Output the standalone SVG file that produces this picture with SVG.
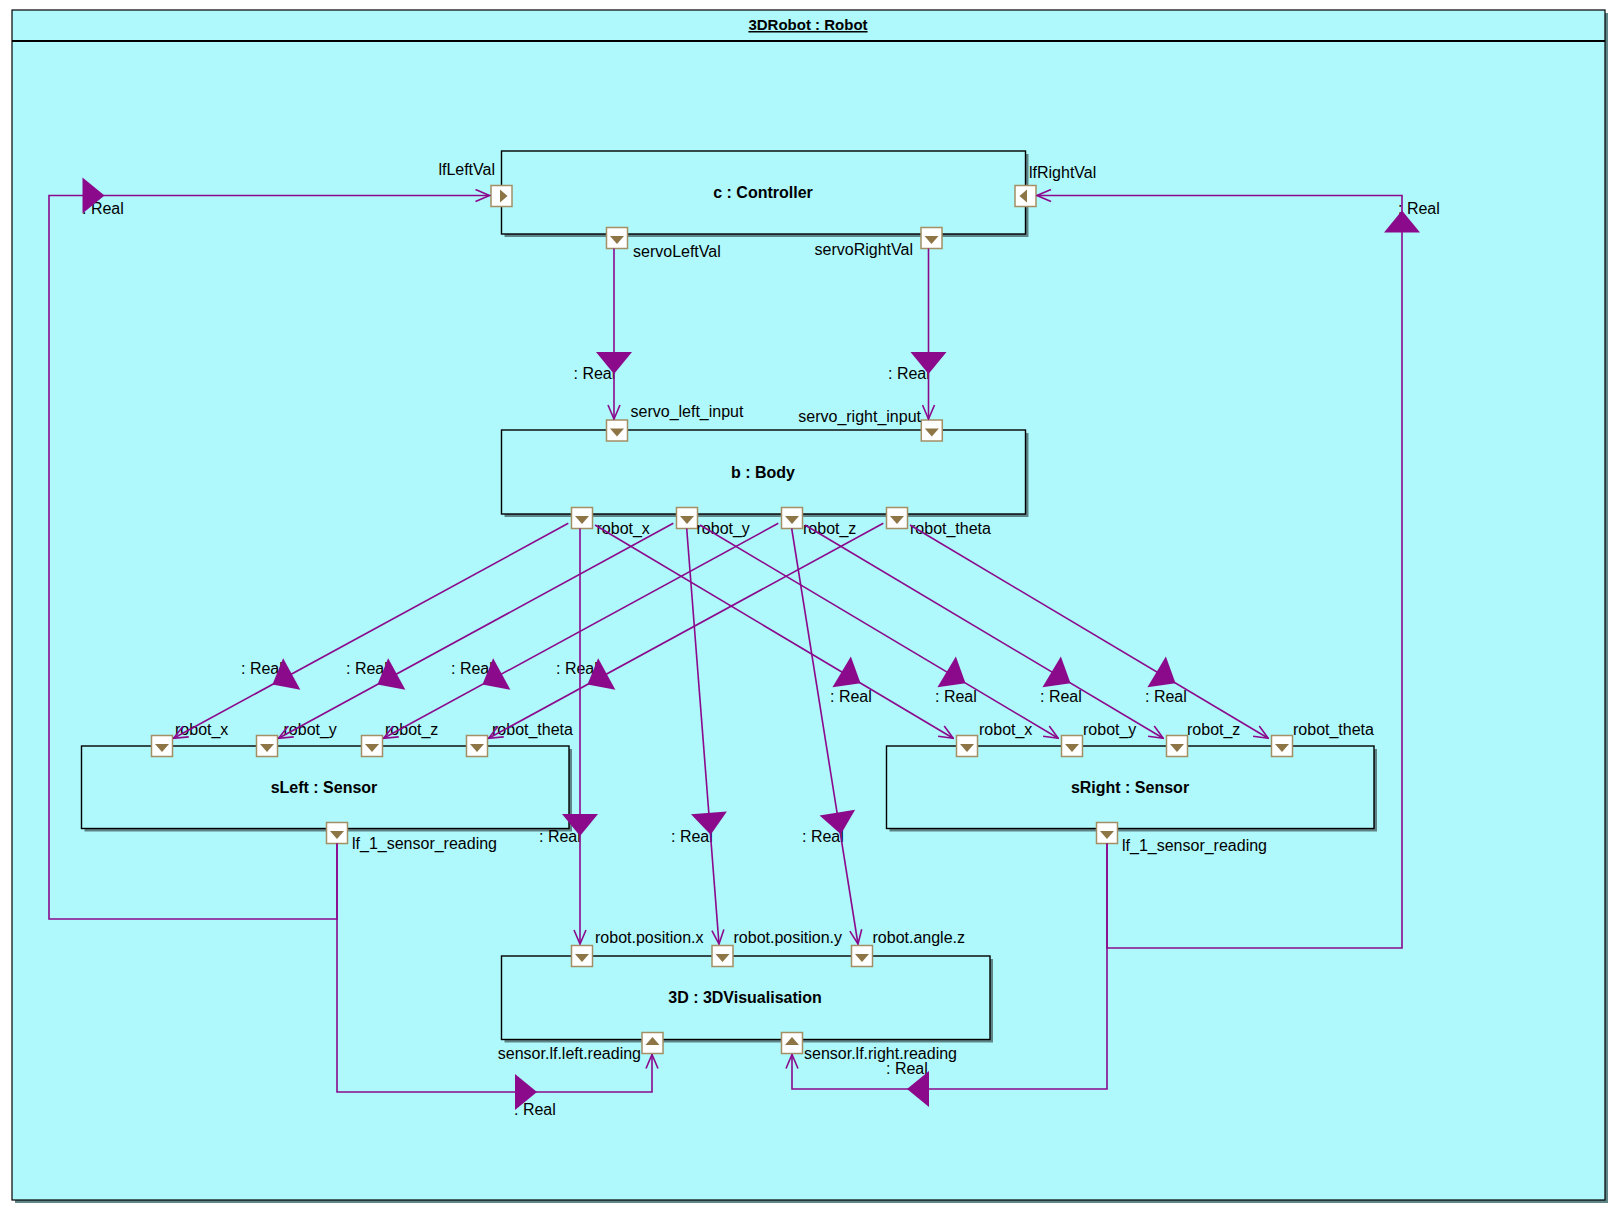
<svg xmlns="http://www.w3.org/2000/svg" width="1614" height="1209" viewBox="0 0 1614 1209">
  <style>
    text { font-family: "Liberation Sans", Arial, sans-serif; font-size: 16px; fill: #000; }
    .title { font-weight: bold; text-anchor: middle; }
    .frameTitle { font-weight: bold; font-size: 15px; text-anchor: middle; text-decoration: underline; }
    .end { text-anchor: end; }
    .node { fill: #AFF8FC; stroke: #000; stroke-width: 1.4; }
    .shadow { fill: #5f8588; }
    .pbox { fill: #fff; stroke: #A38F63; stroke-width: 1.5; }
    .ptri { fill: #8D7546; }
    .wire { fill: none; stroke: #8B0A8C; stroke-width: 1.6; }
    .flow { fill: #8B0A8C; }
  </style>
  <defs>
    <!-- port glyphs: 21x21 box centred on the origin with a direction arrow -->
    <g id="pDown"><rect x="-10.5" y="-10.5" width="21" height="21" class="pbox"/><path d="M-7,-2 L7,-2 L0,6 Z" class="ptri"/></g>
    <g id="pUp"><rect x="-10.5" y="-10.5" width="21" height="21" class="pbox"/><path d="M-7,2 L7,2 L0,-6 Z" class="ptri"/></g>
    <g id="pRight"><rect x="-10.5" y="-10.5" width="21" height="21" class="pbox"/><path d="M-1.5,-6.5 L-1.5,6.5 L6,0 Z" class="ptri"/></g>
    <g id="pLeft"><rect x="-10.5" y="-10.5" width="21" height="21" class="pbox"/><path d="M1.5,-6.5 L1.5,6.5 L-6,0 Z" class="ptri"/></g>
    <!-- item-flow triangle, pointing along +x -->
    <path id="flowTri" d="M-11,-18 L11,0 L-11,18 Z" class="flow"/>
    <marker id="open" viewBox="0 0 16 14" refX="15" refY="7" markerWidth="16" markerHeight="14" markerUnits="userSpaceOnUse" orient="auto">
      <path d="M1,1 L15,7 L1,13" fill="none" stroke="#8B0A8C" stroke-width="1.6"/>
    </marker>
  </defs>

  <rect width="1614" height="1209" fill="#fff"/>

  <!-- enclosing block frame -->
  <g id="frame">
    <rect x="15" y="13" width="1593" height="1190" class="shadow"/>
    <rect x="12" y="10" width="1593" height="1190" fill="#AFF8FC" stroke="#000" stroke-width="1.2"/>
    <line x1="12" y1="41" x2="1605" y2="41" stroke="#000" stroke-width="2"/>
    <text x="808" y="30" class="frameTitle">3DRobot : Robot</text>
  </g>

  <g id="controller">
    <rect x="504.5" y="154" width="524" height="83" class="shadow"/>
    <rect x="501.5" y="151" width="524" height="83" class="node"/>
    <text x="763" y="198" class="title">c : Controller</text>
    <use href="#pRight" x="501.5" y="196"/>
    <use href="#pLeft" x="1025.5" y="196"/>
    <use href="#pDown" x="617" y="238"/>
    <use href="#pDown" x="931.5" y="238"/>
    <text x="495" y="175" class="end">lfLeftVal</text>
    <text x="1029" y="178">lfRightVal</text>
    <text x="633" y="257">servoLeftVal</text>
    <text x="913" y="255" class="end">servoRightVal</text>
  </g>

  <g id="body">
    <rect x="504.5" y="433" width="524" height="84" class="shadow"/>
    <rect x="501.5" y="430" width="524" height="84" class="node"/>
    <text x="763" y="478" class="title">b : Body</text>
    <use href="#pDown" x="617" y="430.5"/>
    <use href="#pDown" x="931.8" y="430.5"/>
    <use href="#pDown" x="582" y="518"/>
    <use href="#pDown" x="687" y="518"/>
    <use href="#pDown" x="792" y="518"/>
    <use href="#pDown" x="897" y="518"/>
    <text x="630.5" y="417">servo_left_input</text>
    <text x="921" y="421.5" class="end">servo_right_input</text>
    <text x="596.5" y="534">robot_x</text>
    <text x="696.5" y="534">robot_y</text>
    <text x="803" y="534">robot_z</text>
    <text x="910" y="534">robot_theta</text>
  </g>

  <g id="sLeft">
    <rect x="84.5" y="749" width="487.5" height="82.5" class="shadow"/>
    <rect x="81.5" y="746" width="487.5" height="82.5" class="node"/>
    <text x="324" y="793" class="title">sLeft : Sensor</text>
    <use href="#pDown" x="162" y="746"/>
    <use href="#pDown" x="267" y="746"/>
    <use href="#pDown" x="372" y="746"/>
    <use href="#pDown" x="477" y="746"/>
    <use href="#pDown" x="337" y="833"/>
    <text x="175" y="735">robot_x</text>
    <text x="283.5" y="735">robot_y</text>
    <text x="385" y="735">robot_z</text>
    <text x="492" y="735">robot_theta</text>
    <text x="352" y="849">lf_1_sensor_reading</text>
  </g>

  <g id="sRight">
    <rect x="889.5" y="749" width="487.5" height="82.5" class="shadow"/>
    <rect x="886.5" y="746" width="487.5" height="82.5" class="node"/>
    <text x="1130" y="793" class="title">sRight : Sensor</text>
    <use href="#pDown" x="967" y="746"/>
    <use href="#pDown" x="1072" y="746"/>
    <use href="#pDown" x="1177" y="746"/>
    <use href="#pDown" x="1282" y="746"/>
    <use href="#pDown" x="1107" y="833"/>
    <text x="979" y="735">robot_x</text>
    <text x="1083" y="735">robot_y</text>
    <text x="1187" y="735">robot_z</text>
    <text x="1293" y="735">robot_theta</text>
    <text x="1122" y="851">lf_1_sensor_reading</text>
  </g>

  <g id="visualisation">
    <rect x="504.5" y="959" width="488.5" height="83.5" class="shadow"/>
    <rect x="501.5" y="956" width="488.5" height="83.5" class="node"/>
    <text x="745" y="1003" class="title">3D : 3DVisualisation</text>
    <use href="#pDown" x="582" y="956"/>
    <use href="#pDown" x="722.5" y="956"/>
    <use href="#pDown" x="862" y="956"/>
    <use href="#pUp" x="652.5" y="1043"/>
    <use href="#pUp" x="792" y="1043"/>
    <text x="595" y="943">robot.position.x</text>
    <text x="733.5" y="943">robot.position.y</text>
    <text x="872.5" y="943">robot.angle.z</text>
    <text x="641" y="1058.5" class="end">sensor.lf.left.reading</text>
    <text x="804" y="1058.5">sensor.lf.right.reading</text>
  </g>

  <g id="connectors">
    <!-- item-flow type labels -->
    <text x="573.5" y="379">: Real</text>
    <text x="888" y="379">: Real</text>
    <text x="241" y="673.5">: Real</text>
    <text x="346" y="673.5">: Real</text>
    <text x="451" y="673.5">: Real</text>
    <text x="556" y="673.5">: Real</text>
    <text x="830" y="701.5">: Real</text>
    <text x="935" y="701.5">: Real</text>
    <text x="1040" y="701.5">: Real</text>
    <text x="1145" y="701.5">: Real</text>
    <text x="539" y="841.5">: Real</text>
    <text x="671" y="841.5">: Real</text>
    <text x="802" y="841.5">: Real</text>
    <text x="82" y="214">: Real</text>
    <text x="514" y="1114.5">: Real</text>
    <text x="1398" y="214">: Real</text>
    <text x="886" y="1073.5">: Real</text>

    <!-- controller to body -->
    <path d="M614,248.5 V419" class="wire" marker-end="url(#open)"/>
    <path d="M928.5,248.5 V419" class="wire" marker-end="url(#open)"/>
    <!-- body to left sensor -->
    <path d="M568.3,523.3 L173.6,738.3" class="wire" marker-end="url(#open)"/>
    <path d="M673.3,523.3 L278.6,738.3" class="wire" marker-end="url(#open)"/>
    <path d="M778.3,523.3 L383.6,738.3" class="wire" marker-end="url(#open)"/>
    <path d="M883.3,523.3 L488.6,738.3" class="wire" marker-end="url(#open)"/>
    <!-- body to right sensor -->
    <path d="M595,525 L953.2,738.3" class="wire" marker-end="url(#open)"/>
    <path d="M700,525 L1058.2,738.3" class="wire" marker-end="url(#open)"/>
    <path d="M805,525 L1163.2,738.3" class="wire" marker-end="url(#open)"/>
    <path d="M910,525 L1268.2,738.3" class="wire" marker-end="url(#open)"/>
    <!-- body to visualisation -->
    <path d="M580,528.5 L580,944" class="wire" marker-end="url(#open)"/>
    <path d="M686.7,528.5 L719,944" class="wire" marker-end="url(#open)"/>
    <path d="M791.7,528.5 L858,944" class="wire" marker-end="url(#open)"/>
    <!-- sensor feedback loops -->
    <path d="M337,843.5 V919 H49 V195.5 H489.5" class="wire" marker-end="url(#open)"/>
    <path d="M337,843.5 V1092 H652 V1054.5" class="wire" marker-end="url(#open)"/>
    <path d="M1107,843.5 V948 H1402 V195.5 H1037" class="wire" marker-end="url(#open)"/>
    <path d="M1107,843.5 V1089 H792 V1054.5" class="wire" marker-end="url(#open)"/>

    <!-- item-flow direction triangles -->
    <use href="#flowTri" transform="translate(614,363) rotate(90)"/>
    <use href="#flowTri" transform="translate(928.5,363) rotate(90)"/>
    <use href="#flowTri" transform="translate(282.1,679.2) rotate(151.4)"/>
    <use href="#flowTri" transform="translate(387.1,679.2) rotate(151.4)"/>
    <use href="#flowTri" transform="translate(492.1,679.2) rotate(151.4)"/>
    <use href="#flowTri" transform="translate(597.1,679.2) rotate(151.4)"/>
    <use href="#flowTri" transform="translate(851.1,677.5) rotate(30.8)"/>
    <use href="#flowTri" transform="translate(956.1,677.5) rotate(30.8)"/>
    <use href="#flowTri" transform="translate(1061.1,677.5) rotate(30.8)"/>
    <use href="#flowTri" transform="translate(1166.1,677.5) rotate(30.8)"/>
    <use href="#flowTri" transform="translate(580,825) rotate(90)"/>
    <use href="#flowTri" transform="translate(709.8,823.9) rotate(85.5)"/>
    <use href="#flowTri" transform="translate(839.1,823.4) rotate(80.9)"/>
    <use href="#flowTri" transform="translate(93.5,195.5)"/>
    <use href="#flowTri" transform="translate(526,1092)"/>
    <use href="#flowTri" transform="translate(1402,221.5) rotate(-90)"/>
    <use href="#flowTri" transform="translate(918,1089) rotate(180)"/>
  </g>
</svg>
